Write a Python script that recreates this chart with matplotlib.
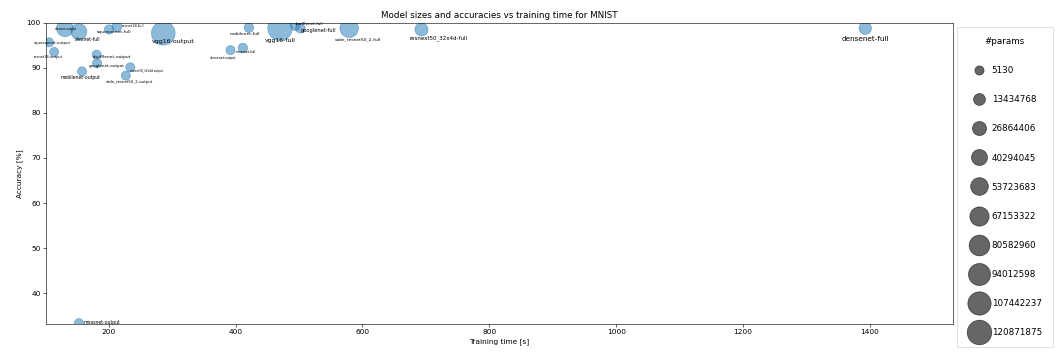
"""
Bubble chart: model size vs accuracy vs training time (MNIST).
"""
import numpy as np
import matplotlib
matplotlib.use("Agg")
import matplotlib.pyplot as plt
from matplotlib.lines import Line2D

# Data
MODELS = [
    "alexnet-output", "alexnet-full", "squeezenet-full", "resnet18-full",
    "squeezenet-output", "resnet18-output", "shufflenet-output", "googlenet-output",
    "mobilenet-output", "resnext50_32x4d-output", "wide_resnet50_2-output", "vgg16-output",
    "mobilenet-full", "vgg16-full", "densenet-output", "mnasnet-full",
    "shufflenet-full", "googlenet-full", "wide_resnet50_2-full", "resnext50_32x4d-full",
    "densenet-full", "mnasnet-output",
]
TRAIN_TIME = [
    131, 153, 200.5, 213,
    106, 114, 181, 181.6,
    158, 234, 227, 286,
    421, 470, 392, 411.5,
    494, 502, 579, 693,
    1392.6, 153,
]
ACCURACY = [
    98.76, 98.0, 98.5, 99.1,
    95.65, 93.5, 92.9, 91.0,
    89.2, 90.1, 88.25, 97.65,
    98.9, 98.76, 93.9, 94.4,
    99.3, 98.76, 98.76, 98.5,
    98.76, 33.35,
]
N_PARAMS = [
    47000000, 40000000, 740000, 2500000,
    5130, 5130, 10250, 10250,
    12810, 20490, 20490, 112000000,
    2000000, 120871875, 10250, 1500000,
    1300000, 2000000, 61000000, 20000000,
    17000000, 12810,
]
LEGEND_PARAMS = [5130, 13434768, 26864406, 40294045, 53723683,
                 67153322, 80582960, 94012598, 107442237, 120871875]

# label placement (pixels from the point, y up) and font size per label
LABEL_OFFSET = {
    "alexnet-output": (1, -1), "alexnet-full": (9, -8), "squeezenet-full": (5, -3),
    "resnet18-full": (16, 1), "squeezenet-output": (3, -1), "resnet18-output": (-6, -5),
    "shufflenet-output": (15, -2), "googlenet-output": (10, -3), "mobilenet-output": (-2, -6),
    "resnext50_32x4d-output": (16, -4), "wide_resnet50_2-output": (4, -6),
    "vgg16-output": (10, -8), "mobilenet-full": (-4, -6), "vgg16-full": (0, -12),
    "densenet-output": (-7, -8), "mnasnet-full": (3, -4), "shufflenet-full": (14, 2),
    "googlenet-full": (18, -2), "wide_resnet50_2-full": (9, -11),
    "resnext50_32x4d-full": (17, -9), "densenet-full": (0, -11), "mnasnet-output": (23, 1),
}
LABEL_SIZE = {
    "alexnet-output": 4.1, "alexnet-full": 6.4, "squeezenet-full": 6.1, "resnet18-full": 4.8,
    "squeezenet-output": 5.3, "resnet18-output": 4.8, "shufflenet-output": 5.9,
    "googlenet-output": 5.6, "mobilenet-output": 6.3, "resnext50_32x4d-output": 3.7,
    "wide_resnet50_2-output": 5.3, "vgg16-output": 8.5, "mobilenet-full": 5.9,
    "vgg16-full": 8.3, "densenet-output": 4.5, "mnasnet-full": 4.5, "shufflenet-full": 5.6,
    "googlenet-full": 7.0, "wide_resnet50_2-full": 6.1, "resnext50_32x4d-full": 7.5,
    "densenet-full": 9.9, "mnasnet-output": 6.3,
}

P_MIN, P_MAX = 5130, 120871875
S_MIN, S_MAX = 155, 1116


def marker_area(p):
    """Linear map from parameter count to scatter area (pt^2)."""
    p = np.asarray(p, dtype=float)
    return S_MIN + (p - P_MIN) / (P_MAX - P_MIN) * (S_MAX - S_MIN)


def main():
    dpi = 52.8
    fig = plt.figure(figsize=(20, 6.705), dpi=dpi)
    ax = fig.add_axes([0.0433, 0.0839, 0.9025 - 0.0433, 0.9359 - 0.0839])

    ax.scatter(TRAIN_TIME, ACCURACY, s=marker_area(N_PARAMS), color="tab:blue", alpha=0.5)
    for name, x, y in zip(MODELS, TRAIN_TIME, ACCURACY):
        ax.annotate(name, (x, y), xytext=LABEL_OFFSET[name], textcoords="offset pixels",
                    ha="center", va="center", fontsize=LABEL_SIZE[name],
                    annotation_clip=False)

    ax.set_xlim(100.7, 1531)
    ax.set_ylim(33.1, 100)
    ax.set_title("Model sizes and accuracies vs training time for MNIST", fontsize=12)
    ax.set_xlabel("Training time [s]")
    ax.set_ylabel("Accuracy [%]")

    handles = [Line2D([], [], marker="o", ls="", color="k", alpha=0.6,
                      markersize=np.sqrt(marker_area(p))) for p in LEGEND_PARAMS]
    labels = [str(p) for p in LEGEND_PARAMS]
    fig.legend(handles, labels, title="#params", loc="upper left",
               bbox_to_anchor=(956.7 / 1056, 1 - 26.7 / 354), borderaxespad=0,
               fontsize=12, title_fontsize=12, labelspacing=2.28,
               handlelength=2.73, handletextpad=0.05, borderpad=1.2)

    fig.savefig("out.png", dpi=dpi)
    plt.close(fig)


if __name__ == "__main__":
    main()
